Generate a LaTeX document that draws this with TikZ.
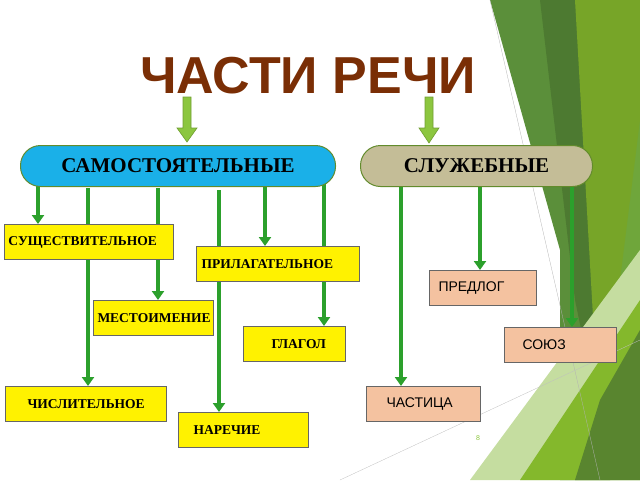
\documentclass[tikz,border=0pt]{standalone}
\usepackage{fontspec}
\setmainfont{Liberation Serif}
\newfontfamily\sansf{Liberation Sans}
\usetikzlibrary{arrows.meta,backgrounds}
\definecolor{titlebrown}{HTML}{7A2E05}
\definecolor{skyblue}{HTML}{1AB0E8}
\definecolor{khaki}{HTML}{C4BD97}
\definecolor{peach}{HTML}{F4C2A0}
\definecolor{arrgreen}{HTML}{2CA02C}
\definecolor{lightarr}{HTML}{8CC63F}
\definecolor{leafdark}{HTML}{5B8F3A}
\definecolor{leafmid}{HTML}{6FA63B}
\definecolor{leafbright}{HTML}{84B82C}
\definecolor{leafpale}{HTML}{C5DDA0}
\begin{document}
\begin{tikzpicture}
  [x=1pt,y=-1pt,
   part/.style 2 args={draw=black!60,line width=1pt,fill=yellow,minimum height=35pt,
     text width=#1pt-2*#2pt,inner xsep=#2pt,inner ysep=0pt,align=left,
     anchor=north west,font=\bfseries\fontsize{13.5}{14}\selectfont},
   serv/.style 2 args={draw=black!60,line width=1pt,fill=peach,minimum height=35pt,
     text width=#1pt-2*#2pt,inner xsep=#2pt,inner ysep=0pt,align=left,
     anchor=north west,font=\sansf\fontsize{14}{16}\selectfont},
   group/.style={rounded corners=20pt,draw=lightarr!70!black,line width=1pt,minimum height=41pt,
     anchor=north west,font=\bfseries\fontsize{21}{23}\selectfont},
   link/.style={draw=arrgreen,line width=4.5pt,-{Triangle[length=9pt,width=12pt]}},
   biglink/.style={draw=lightarr!80!black,fill=lightarr,line width=0.6pt}]
  \useasboundingbox (0,0) rectangle (640,480);
  % title
  \node[font=\sansf\bfseries\fontsize{52}{56}\selectfont,text=titlebrown] (title) at (308,76) {ЧАСТИ РЕЧИ};
  % groups
  \node[group,fill=skyblue,minimum width=315pt] (indep) at (20,145) {САМОСТОЯТЕЛЬНЫЕ};
  \node[group,fill=khaki,minimum width=232pt] (aux) at (360,145) {СЛУЖЕБНЫЕ};
  % parts of speech
  \node[part={169}{4}] (noun) at (4,224) {СУЩЕСТВИТЕЛЬНОЕ};
  \node[part={163}{5}] (adj) at (196,246) {ПРИЛАГАТЕЛЬНОЕ};
  \node[part={120}{4}] (pron) at (93,300) {МЕСТОИМЕНИЕ};
  \node[part={102}{28}] (verb) at (243,326) {ГЛАГОЛ};
  \node[part={161}{22}] (num) at (5,386) {ЧИСЛИТЕЛЬНОЕ};
  \node[part={130}{15}] (adv) at (178,412) {НАРЕЧИЕ};
  \node[serv={107}{9}] (prep) at (429,270) {ПРЕДЛОГ};
  \node[serv={112}{18}] (conj) at (504,327) {СОЮЗ};
  \node[serv={114}{20}] (part) at (366,386) {ЧАСТИЦА};
  \node[text=lightarr,font=\sansf\fontsize{7}{8}\selectfont] (pg) at (478,438) {8};
  % start points
  \coordinate (s1) at (38,186);
  \coordinate (s2) at (88,188);
  \coordinate (s3) at (158,188);
  \coordinate (s4) at (219,190);
  \coordinate (s5) at (265,186);
  \coordinate (s6) at (324,178);
  \coordinate (a1) at (401,184);
  \coordinate (a2) at (480,186);
  \coordinate (a3) at (572,180);
  \begin{scope}[on background layer]
  % background
  \fill[leafdark] (490,0) -- (600,0) -- (610,480) -- (560,480) -- (560,250) -- cycle;
  \fill[leafmid] (600,0) -- (640,0) -- (640,480) -- (600,480) -- cycle;
  \fill[leafdark!85!black] (540,0) -- (600,0) -- (600,420) -- (575,300) -- cycle;
  \fill[leafbright!90!black] (575,0) -- (640,0) -- (640,120) -- (600,440) -- cycle;
  \fill[leafpale] (640,250) -- (640,480) -- (470,480) -- cycle;
  \fill[leafbright] (640,300) -- (640,480) -- (520,480) -- cycle;
  \fill[leafmid!80!black] (600,400) -- (640,330) -- (640,480) -- (575,480) -- cycle;
  \draw[black!30,line width=0.3pt] (490,0) -- (600,480);
  \draw[black!25,line width=0.3pt] (340,480) -- (640,340);
  % arrows
  \draw[biglink] (183,97) -- (191,97) -- (191,128) -- (197,128) -- (187,142) -- (177,128) -- (183,128) -- cycle;
  \draw[biglink] (425,97) -- (433,97) -- (433,128) -- (439,128) -- (429,143) -- (419,128) -- (425,128) -- cycle;
  \draw[link] (s1) -- (s1 |- noun.north);
  \draw[link] (s2) -- (s2 |- num.north);
  \draw[link] (s3) -- (s3 |- pron.north);
  \draw[link] (s4) -- (s4 |- adv.north);
  \draw[link] (s5) -- (s5 |- adj.north);
  \draw[link] (s6) -- (s6 |- verb.north);
  \draw[link] (a1) -- (a1 |- part.north);
  \draw[link] (a2) -- (a2 |- prep.north);
  \draw[link] (a3) -- (a3 |- conj.north);
  \end{scope}
\end{tikzpicture}
\end{document}
